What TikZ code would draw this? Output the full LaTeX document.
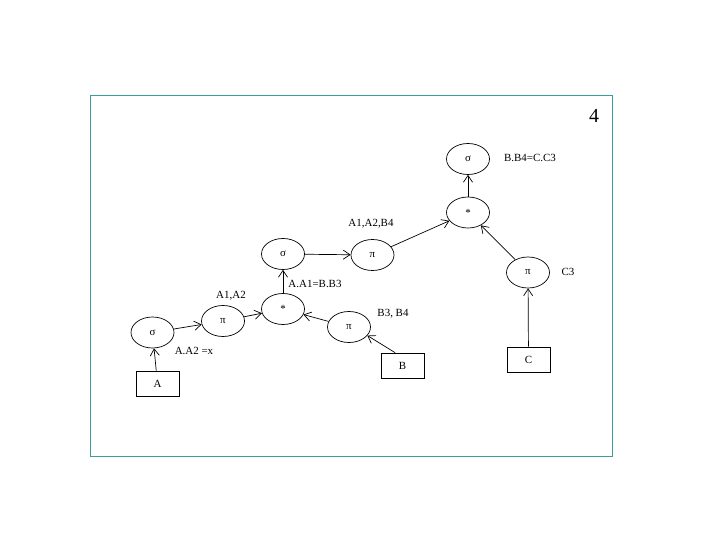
\documentclass[tikz,border=0pt]{standalone}
\usepackage{fontspec}
\setmainfont{Liberation Serif}
\usepackage{tikz}
\usetikzlibrary{arrows.meta,shapes.geometric}
\definecolor{framec}{HTML}{3B9C9C}

\begin{document}
\begin{tikzpicture}[x=1bp, y=-1bp, font=\fontsize{11}{12}\selectfont,
  op/.style={ellipse, draw, line width=0.7pt, minimum width=43bp, minimum height=31bp, inner sep=0pt},
  rel/.style={rectangle, draw, line width=0.7pt, minimum width=43bp, minimum height=25bp, inner sep=0pt},
  lab/.style={inner sep=1pt},
  ar/.style={-{Straight Barb[length=2.4mm, width=3.2mm]}, line width=0.7pt}]
\useasboundingbox (0,0) rectangle (720,540);
\draw[framec, line width=1pt] (90.5,96) rectangle (612,456);
\node[font=\fontsize{20}{22}\selectfont] (pg) at (594,116) {4};
% relations
\node[rel] (ra) at (157.5,383.5) {A};
\node[rel] (rb) at (402.5,365.5) {B};
\node[rel] (rc) at (528.5,359.5) {C};
% operators
\node[op] (s1) at (152.5,332.5) {σ};
\node[op] (p1) at (223,321) {π};
\node[op] (j1) at (283,309) {*};
\node[op] (p4) at (349,327) {π};
\node[op] (s2) at (283,254) {σ};
\node[op] (p2) at (372.5,255) {π};
\node[op] (j2) at (468,212.5) {*};
\node[op] (s3) at (468,159) {σ};
\node[op] (p3) at (528,272.5) {π};
% labels
\node[lab] (ls1) at (194,351) {A.A2 =x};
\node[lab] (lp1) at (231,296) {A1,A2};
\node[lab] (lj1) at (315,284) {A.A1=B.B3};
\node[lab] (lp4) at (393,314) {B3, B4};
\node[lab] (lp2) at (371,224) {A1,A2,B4};
\node[lab] (ls3) at (530,158) {B.B4=C.C3};
\node[lab] (lp3) at (568,272) {C3};
% edges
\draw[ar] (ra) -- (s1);
\draw[ar] (rb.120) -- (p4.-25);
\draw[ar] (rc) -- (p3);
\foreach \a/\b in {s1/p1,p1/j1,p4/j1,j1/s2,s2/p2,p2/j2,p3/j2,j2/s3}\draw[ar] (\a)--(\b);
\end{tikzpicture}
\end{document}
